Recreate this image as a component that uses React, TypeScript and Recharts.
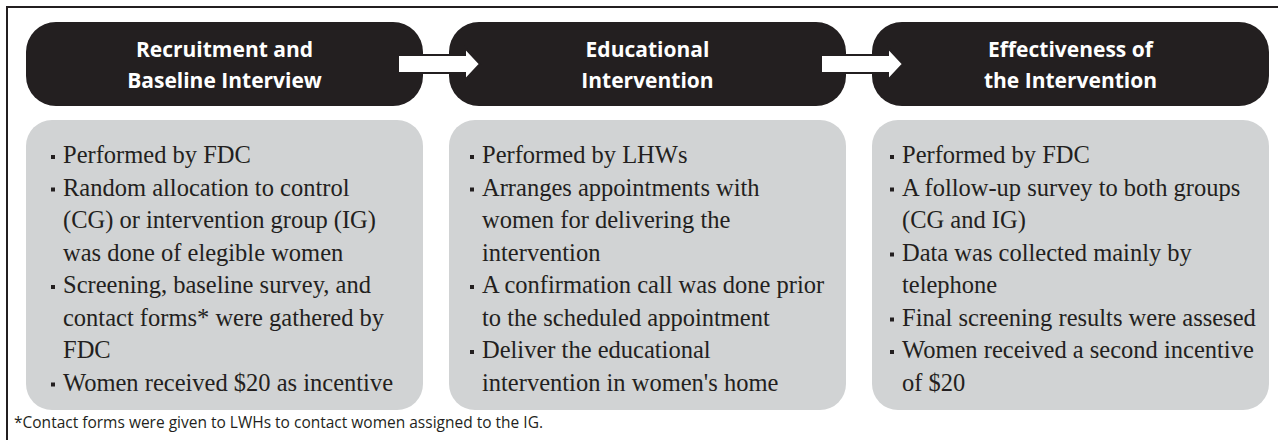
import { Bar, BarChart, XAxis, YAxis } from 'recharts'

// three stages of the study flow, each drawn as one full-height bar
const stages = ['recruitment', 'education', 'effectiveness']
const span = [1, 1, 1]

const headerLines = [
  ['Recruitment and', 'Baseline Interview'],
  ['Educational', 'Intervention'],
  ['Effectiveness of', 'the Intervention'],
]

// each bullet is a list of wrapped lines
const bullets = [
  [
    ['Performed by FDC'],
    ['Random allocation to control', '(CG) or intervention group (IG)', 'was done of elegible women'],
    ['Screening, baseline survey, and', 'contact forms* were gathered by', 'FDC'],
    ['Women received $20 as incentive'],
  ],
  [
    ['Performed by LHWs'],
    ['Arranges appointments with', 'women for delivering the', 'intervention'],
    ['A confirmation call was done prior', 'to the scheduled appointment'],
    ['Deliver the educational', "intervention in women's home"],
  ],
  [
    ['Performed by FDC'],
    ['A follow-up survey to both groups', '(CG and IG)'],
    ['Data was collected mainly by', 'telephone'],
    ['Final screening results were assesed'],
    ['Women received a second incentive', 'of $20'],
  ],
]

const footnote = '*Contact forms were given to LWHs to contact women assigned to the IG.'

const data = stages.map((stage, i) => ({ stage, span: span[i] }))

const ink = '#231f20'
const grey = '#d1d3d4'
const sans = '"Open Sans", Lato, sans-serif'
const serif = '"Liberation Serif", "DejaVu Serif", serif'
const textInset = [37, 33, 30]

function StageShape(props: any) {
  const { x, y, width, height, index } = props
  const headH = 84
  const boxTop = y + headH + 14
  const midY = y + headH / 2
  const cx = x + width / 2
  const lineH = 32.5
  const tx = x + textInset[index]
  let row = 0

  return (
    <g>
      <rect x={x} y={y} width={width} height={headH} rx={30} ry={30} fill={ink} />
      <rect x={x} y={boxTop} width={width} height={y + height - boxTop} rx={26} ry={26} fill={grey} />
      {headerLines[index].map((line, k) => (
        <text key={k} x={cx} y={y + 35 + k * 31} textAnchor="middle" fill="#fff" fontFamily={sans} fontWeight={700} fontSize={21}>
          {line}
        </text>
      ))}
      {bullets[index].map((item, b) =>
        item.map((line, k) => {
          const by = y + 141 + row * lineH
          row += 1
          return (
            <g key={`${b}-${k}`}>
              {k === 0 && <rect x={tx - 12} y={by - 8} width={4} height={4} fill={ink} />}
              <text x={tx} y={by} fill={ink} fontFamily={serif} fontSize={24.5}>
                {line}
              </text>
            </g>
          )
        })
      )}
      {index > 0 && (
        <path
          d={`M${x - 51},${midY - 9} L${x + 16},${midY - 9} L${x + 16},${midY - 16} L${x + 31},${midY} L${x + 16},${midY + 16} L${x + 16},${midY + 9} L${x - 51},${midY + 9} Z`}
          fill="#fff"
          stroke={ink}
          strokeWidth={2}
        />
      )}
    </g>
  )
}

export default function App() {
  return (
    <div style={{ position: 'absolute', left: 0, top: 0, width: 1278, height: 440, overflow: 'hidden', background: '#fff' }}>
      <div
        style={{
          position: 'absolute',
          left: 6,
          top: 6,
          width: 1272,
          height: 434,
          borderTop: `2px solid ${ink}`,
          borderLeft: `2px solid ${ink}`,
        }}
      />
      <div style={{ position: 'absolute', left: 0, top: 0 }}>
        <BarChart width={1282} height={440} data={data} margin={{ top: 22, right: 0, left: 13, bottom: 30 }}>
          <XAxis dataKey="stage" hide />
          <YAxis hide domain={[0, 1]} />
          <Bar dataKey="span" barSize={397} shape={StageShape} isAnimationActive={false} />
        </BarChart>
      </div>
      <div
        style={{
          position: 'absolute',
          left: 14,
          top: 413,
          fontFamily: sans,
          fontSize: 15.5,
          color: ink,
          whiteSpace: 'nowrap',
          lineHeight: '18px',
        }}
      >
        {footnote}
      </div>
    </div>
  )
}
